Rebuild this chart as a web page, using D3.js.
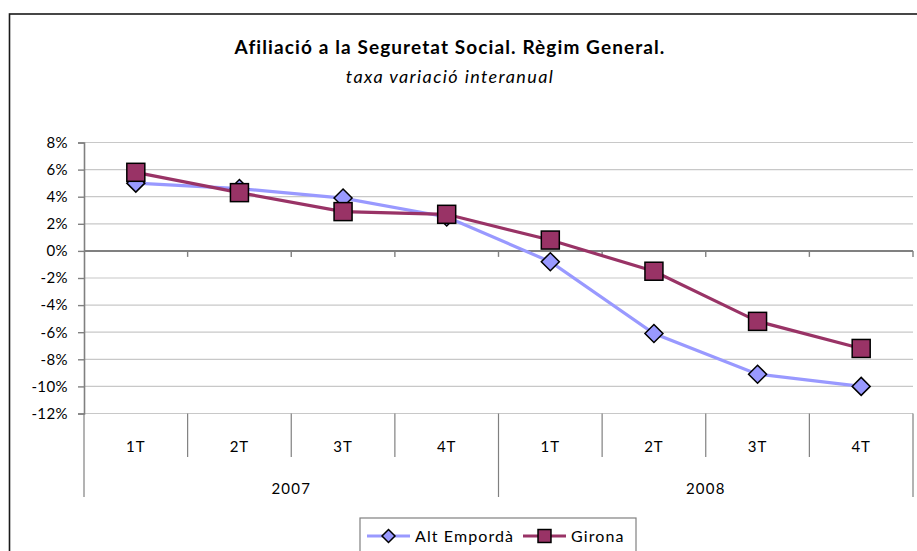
<!DOCTYPE html>
<html>
<head>
<meta charset="utf-8">
<script src="https://cdnjs.cloudflare.com/ajax/libs/d3/7.9.0/d3.min.js"></script>
<style>
  html, body { margin: 0; padding: 0; background: #fff; }
  svg { display: block; font-family: Lato, "Noto Sans", sans-serif; }
</style>
</head>
<body>
<div id="chart"></div>
<script>
// values (percent)
const years = ['2007', '2008'];
const quarters = ['1T', '2T', '3T', '4T'];
const altEmporda = [5.0, 4.6, 3.9, 2.5, -0.8, -6.1, -9.1, -10.0];
const girona = [5.8, 4.3, 2.9, 2.7, 0.8, -1.5, -5.2, -7.2];
const yTicks = [8, 6, 4, 2, 0, -2, -4, -6, -8, -10, -12];

const W = 917, H = 551;
const plot = { left: 84, right: 913, top: 142.5, bottom: 413.5 };

const svg = d3.select('#chart').append('svg')
  .attr('width', W)
  .attr('height', H);

svg.append('rect').attr('width', W).attr('height', H).attr('fill', '#fff');

// chart border (runs past the right and bottom edges)
svg.append('rect')
  .attr('x', 9.5).attr('y', 14)
  .attr('width', W + 20).attr('height', H + 20)
  .attr('fill', 'none')
  .attr('stroke', '#1a1a1a')
  .attr('stroke-width', 1.6);

// titles
svg.append('text')
  .attr('x', 450).attr('y', 54)
  .attr('text-anchor', 'middle')
  .attr('font-weight', 'bold')
  .attr('font-size', 19)
  .attr('letter-spacing', 1.1)
  .text('Afiliació a la Seguretat Social. Règim General.');
svg.append('text')
  .attr('x', 450).attr('y', 83)
  .attr('text-anchor', 'middle')
  .attr('font-style', 'italic')
  .attr('font-size', 18)
  .attr('letter-spacing', 1.4)
  .text('taxa variació interanual');

// scales
const cats = [];
years.forEach(y => quarters.forEach(q => cats.push(y + '-' + q)));

const x = d3.scaleBand().domain(cats).range([plot.left, plot.right]);
const y = d3.scaleLinear().domain([-12, 8]).range([plot.bottom, plot.top]);

// gridlines
svg.append('g')
  .selectAll('line')
  .data(yTicks.filter(d => d !== 0))
  .join('line')
  .attr('x1', plot.left).attr('x2', plot.right)
  .attr('y1', d => y(d)).attr('y2', d => y(d))
  .attr('stroke', '#c8c8c8')
  .attr('stroke-width', 1.2);

// y axis
const yAxis = svg.append('g')
  .attr('transform', `translate(${plot.left},0)`)
  .call(d3.axisLeft(y).tickValues(yTicks).tickSize(6).tickPadding(10).tickFormat(d => d + '%'));
yAxis.select('.domain').attr('stroke', '#808080').attr('stroke-width', 1.6);
yAxis.selectAll('.tick line').attr('stroke', '#808080').attr('stroke-width', 1.4);
yAxis.selectAll('.tick text')
  .attr('font-size', 15)
  .attr('letter-spacing', 0.4)
  .attr('fill', '#000')
  .attr('font-family', 'Lato, "Noto Sans", sans-serif');

// zero line with tick marks at category boundaries
svg.append('line')
  .attr('x1', plot.left).attr('x2', plot.right)
  .attr('y1', y(0)).attr('y2', y(0))
  .attr('stroke', '#808080')
  .attr('stroke-width', 2);
svg.append('g')
  .selectAll('line')
  .data(cats.slice(1).concat(['end']))
  .join('line')
  .attr('x1', d => d === 'end' ? plot.right : x(d))
  .attr('x2', d => d === 'end' ? plot.right : x(d))
  .attr('y1', y(0)).attr('y2', y(0) + 6)
  .attr('stroke', '#808080')
  .attr('stroke-width', 1.4);

// category axis below the plot (multi-level)
const catAxis = svg.append('g');
const qLabelY = 452, yearLabelY = 494;
const qLineEnd = 457, yearLineEnd = 497;

const bounds = [];
for (let i = 0; i <= cats.length; i++) bounds.push(i);
catAxis.selectAll('line.sep')
  .data(bounds)
  .join('line')
  .attr('class', 'sep')
  .attr('x1', i => plot.left + i * x.bandwidth())
  .attr('x2', i => plot.left + i * x.bandwidth())
  .attr('y1', plot.bottom)
  .attr('y2', i => (i % quarters.length === 0) ? yearLineEnd : qLineEnd)
  .attr('stroke', '#808080')
  .attr('stroke-width', 1.2);

catAxis.selectAll('text.q')
  .data(cats)
  .join('text')
  .attr('class', 'q')
  .attr('x', d => x(d) + x.bandwidth() / 2)
  .attr('y', qLabelY)
  .attr('text-anchor', 'middle')
  .attr('font-size', 15)
  .attr('letter-spacing', 1)
  .text(d => d.split('-')[1]);

catAxis.selectAll('text.yr')
  .data(years)
  .join('text')
  .attr('class', 'yr')
  .attr('x', d => {
    const first = x(d + '-' + quarters[0]);
    const last = x(d + '-' + quarters[quarters.length - 1]) + x.bandwidth();
    return (first + last) / 2;
  })
  .attr('y', yearLabelY)
  .attr('text-anchor', 'middle')
  .attr('font-size', 15)
  .attr('letter-spacing', 1.2)
  .text(d => d);

// series
const series = [
  { name: 'Alt Empordà', values: altEmporda, color: '#9999ff', marker: 'diamond' },
  { name: 'Girona', values: girona, color: '#993366', marker: 'square' }
];

const line = d3.line()
  .x((d, i) => x(cats[i]) + x.bandwidth() / 2)
  .y(d => y(d));

function drawMarker(g, type, color, cx, cy, scale) {
  const s = scale || 1;
  if (type === 'diamond') {
    const r = 9 * s;
    g.append('path')
      .attr('d', `M${cx},${cy - r}L${cx + r},${cy}L${cx},${cy + r}L${cx - r},${cy}Z`)
      .attr('fill', color).attr('stroke', '#000').attr('stroke-width', 1.5);
  } else {
    const h = 9 * s;
    g.append('rect')
      .attr('x', cx - h).attr('y', cy - h)
      .attr('width', 2 * h).attr('height', 2 * h)
      .attr('fill', color).attr('stroke', '#000').attr('stroke-width', 1.5);
  }
}

series.forEach(s => {
  const g = svg.append('g');
  g.append('path')
    .attr('d', line(s.values))
    .attr('fill', 'none')
    .attr('stroke', s.color)
    .attr('stroke-width', 3.2);
  s.values.forEach((v, i) => drawMarker(g, s.marker, s.color, x(cats[i]) + x.bandwidth() / 2, y(v)));
});

// legend
const legend = svg.append('g');
legend.append('rect')
  .attr('x', 360).attr('y', 518)
  .attr('width', 276).attr('height', 50)
  .attr('fill', '#fff')
  .attr('stroke', '#808080')
  .attr('stroke-width', 1.2);

const legendItems = [
  { s: series[0], x0: 367, tx: 415 },
  { s: series[1], x0: 523, tx: 571 }
];
legendItems.forEach(it => {
  const ly = 536;
  legend.append('line')
    .attr('x1', it.x0).attr('x2', it.x0 + 43)
    .attr('y1', ly).attr('y2', ly)
    .attr('stroke', it.s.color).attr('stroke-width', 3);
  drawMarker(legend, it.s.marker, it.s.color, it.x0 + 21.5, ly, 0.72);
  legend.append('text')
    .attr('x', it.tx).attr('y', ly + 5.5)
    .attr('font-size', 16)
    .attr('letter-spacing', 1.1)
    .text(it.s.name);
});
</script>
</body>
</html>
